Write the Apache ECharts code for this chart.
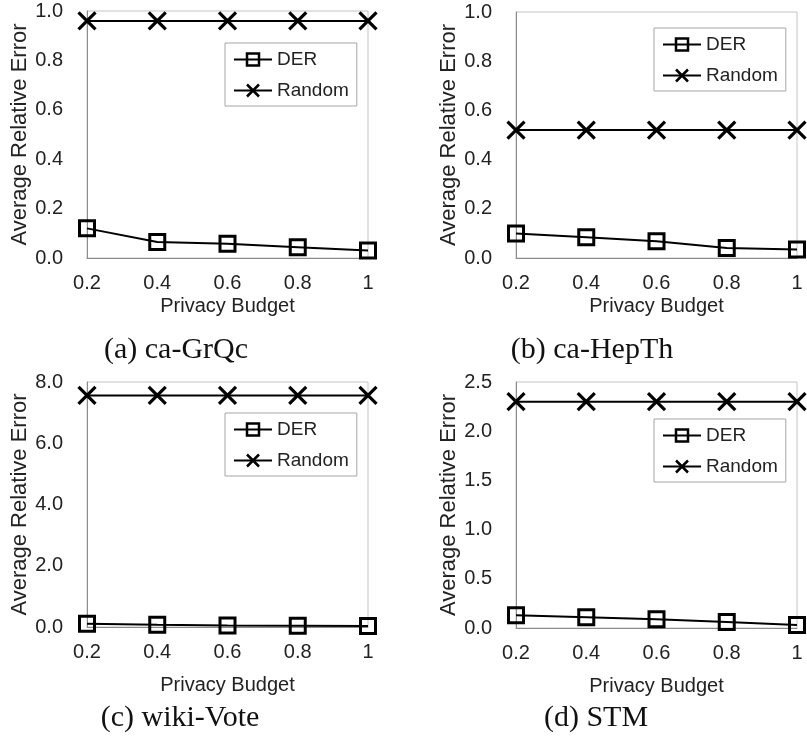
<!DOCTYPE html>
<html>
<head>
<meta charset="utf-8">
<script src="https://cdn.jsdelivr.net/npm/echarts@6/dist/echarts.min.js"></script>
<style>
  html, body { margin: 0; padding: 0; background: #fff; }
  #chart { width: 807px; height: 742px; }
</style>
</head>
<body>
<div id="chart"></div>
<script>
// Privacy budget values on the x axis
const budgets = ['0.2', '0.4', '0.6', '0.8', '1'];

// Average relative error per dataset
const grqcDER = [0.12, 0.065, 0.058, 0.044, 0.03];
const grqcRandom = [0.96, 0.96, 0.96, 0.96, 0.96];

const hepthDER = [0.10, 0.084, 0.068, 0.041, 0.035];
const hepthRandom = [0.52, 0.52, 0.52, 0.52, 0.52];

const wikiDER = [0.11, 0.07, 0.05, 0.04, 0.03];
const wikiRandom = [7.56, 7.56, 7.56, 7.56, 7.56];

const stmDER = [0.13, 0.11, 0.09, 0.06, 0.03];
const stmRandom = [2.30, 2.30, 2.30, 2.30, 2.30];

// y-axis ranges per panel
const yMax = [1.0, 1.0, 8.0, 2.5];
const yStep = [0.2, 0.2, 2.0, 0.5];

const captions = ['(a) ca-GrQc', '(b) ca-HepTh', '(c) wiki-Vote', '(d) STM'];

const panels = [
  { der: grqcDER, rnd: grqcRandom },
  { der: hepthDER, rnd: hepthRandom },
  { der: wikiDER, rnd: wikiRandom },
  { der: stmDER, rnd: stmRandom }
];

const SANS = '"Liberation Sans", Arial, sans-serif';
const SERIF = '"Liberation Serif", "Times New Roman", serif';
const TEXT = '#222';

// plot rectangles
const grids = [
  { left: 87, top: 11, width: 281, height: 247 },
  { left: 516, top: 12, width: 281, height: 246 },
  { left: 87, top: 382, width: 281, height: 245 },
  { left: 516, top: 382, width: 281, height: 246 }
];
const xNameGap = [38, 38, 48, 48];
const legendPos = [
  { left: 225, top: 43 },
  { left: 654, top: 28 },
  { left: 225, top: 413 },
  { left: 654, top: 419 }
];
const captionPos = [
  { x: 176, y: 350 },
  { x: 592, y: 350 },
  { x: 180, y: 718 },
  { x: 596, y: 718 }
];

const crossPath = 'path://M0,0L10,10M10,0L0,10';

const option = {
  animation: false,
  backgroundColor: '#fff',
  grid: grids.map(g => Object.assign({
    show: true, borderColor: '#c4c4c4', borderWidth: 1, backgroundColor: 'transparent'
  }, g)),
  xAxis: grids.map((g, i) => ({
    gridIndex: i,
    type: 'category',
    data: budgets,
    boundaryGap: false,
    name: 'Privacy Budget',
    nameLocation: 'middle',
    nameGap: xNameGap[i],
    nameTextStyle: { fontFamily: SANS, fontSize: 20, color: TEXT },
    axisLine: { show: true, lineStyle: { color: '#8c8c8c', width: 1 } },
    axisTick: { show: false },
    axisLabel: { fontFamily: SANS, fontSize: 20, color: TEXT, margin: 15 },
    splitLine: { show: false }
  })),
  yAxis: grids.map((g, i) => ({
    gridIndex: i,
    type: 'value',
    min: 0,
    max: yMax[i],
    interval: yStep[i],
    name: 'Average Relative Error',
    nameLocation: 'middle',
    nameGap: 55,
    nameTextStyle: { fontFamily: SANS, fontSize: 22, color: TEXT },
    axisLine: { show: true, lineStyle: { color: '#8c8c8c', width: 1 } },
    axisTick: { show: false },
    axisLabel: {
      fontFamily: SANS, fontSize: 20, color: TEXT, margin: 24,
      formatter: v => v.toFixed(1)
    },
    splitLine: { show: false }
  })),
  legend: legendPos.map(p => ({
    left: p.left,
    top: p.top,
    orient: 'vertical',
    data: ['DER', 'Random'],
    backgroundColor: '#fff',
    borderColor: '#a6a6a6',
    borderWidth: 1,
    borderRadius: 0,
    padding: [7, 8, 6, 8],
    itemGap: 12,
    itemWidth: 38,
    itemHeight: 15,
    itemStyle: { borderWidth: 2.5 },
    selectedMode: false,
    textStyle: { fontFamily: SANS, fontSize: 19, color: TEXT, lineHeight: 19 }
  })),
  graphic: captions.map((c, i) => ({
    type: 'text',
    x: captionPos[i].x,
    y: captionPos[i].y,
    style: {
      text: c,
      font: '30px ' + SERIF,
      fill: '#111',
      align: 'center',
      verticalAlign: 'middle'
    }
  })),
  series: []
};

panels.forEach((p, i) => {
  option.series.push({
    name: 'DER',
    type: 'line',
    xAxisIndex: i,
    yAxisIndex: i,
    data: p.der,
    symbol: 'rect',
    symbolSize: 15,
    z: 3,
    lineStyle: { color: '#000', width: 2 },
    itemStyle: { color: 'transparent', borderColor: '#000', borderWidth: 3 }
  });
  option.series.push({
    name: 'Random',
    type: 'line',
    xAxisIndex: i,
    yAxisIndex: i,
    data: p.rnd,
    symbol: crossPath,
    symbolSize: 17,
    z: 3,
    lineStyle: { color: '#000', width: 2 },
    itemStyle: { color: '#000', borderColor: '#000', borderWidth: 3.2 }
  });
});

const chart = echarts.init(document.getElementById('chart'), null, { renderer: 'canvas' });
chart.setOption(option);
</script>
</body>
</html>
